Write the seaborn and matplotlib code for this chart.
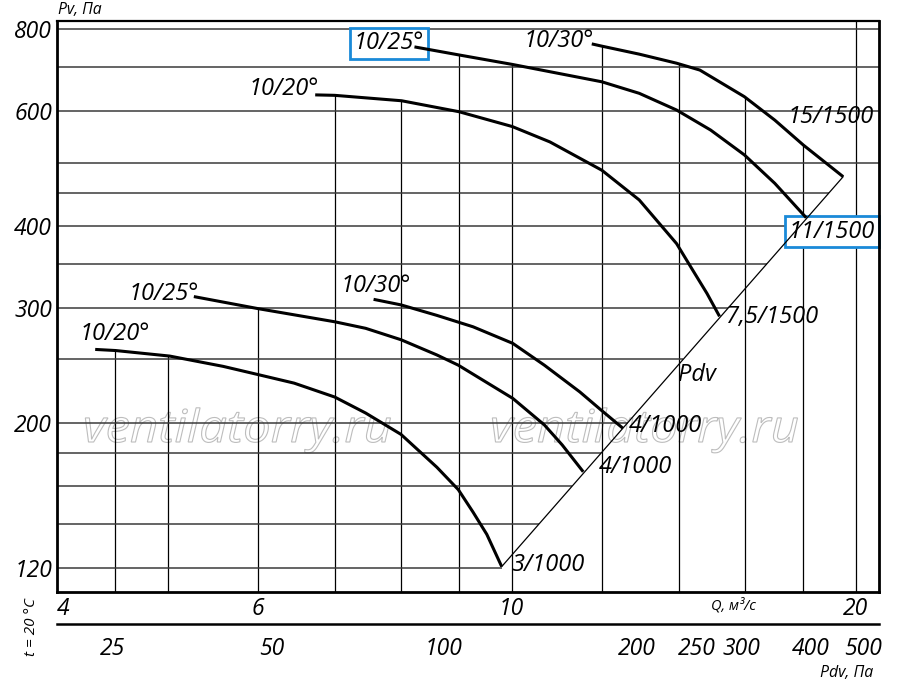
import numpy as np
import pandas as pd
import matplotlib
matplotlib.use("Agg")
import matplotlib.pyplot as plt
import seaborn as sns
from matplotlib.textpath import TextPath
from matplotlib.patches import PathPatch
from matplotlib.font_manager import FontProperties
from matplotlib.transforms import Affine2D
from matplotlib.ticker import NullLocator

# ========== DATA ==========
# n = 1000 rpm, blade angles 20/25/30 deg
q_1000_20 = [4.32, 4.50, 5.02, 5.59, 6.00, 6.45, 7.00, 7.45, 8.00, 8.60, 8.98, 9.25, 9.51, 9.80]
p_1000_20 = [259, 258, 253, 244, 237, 230, 219, 207, 192, 171, 158, 146, 135, 120.5]
q_1000_25 = [5.27, 6.00, 7.00, 7.45, 8.00, 8.60, 8.98, 10.02, 10.68, 11.07, 11.55]
p_1000_25 = [312, 299, 285.5, 279, 268, 254, 245, 218, 198.5, 185, 168.3]
q_1000_30 = [7.57, 8.00, 8.60, 9.25, 10.02, 10.68, 11.47, 11.98, 12.51]
p_1000_30 = [309, 303, 292, 280.5, 264.6, 245, 223, 209, 196.2]
# n = 1500 rpm
q_1500_20 = [6.73, 7.00, 8.01, 8.99, 10.01, 10.80, 11.99, 12.93, 13.94, 14.40, 14.82, 15.20]
p_1500_20 = [635, 634, 622, 598.5, 568, 538, 487, 438.5, 376, 342.5, 315.5, 291]
q_1500_25 = [8.22, 8.99, 10.01, 11.99, 12.93, 13.94, 14.93, 15.98, 16.99, 18.10]
p_1500_25 = [752, 731, 707, 665, 638.5, 602, 561, 514, 465, 412]
q_1500_30 = [11.75, 11.99, 12.93, 13.94, 14.61, 15.98, 16.99, 18.00, 19.50]
p_1500_30 = [760, 754, 733, 710, 693, 631, 581, 532, 476]

# dynamic pressure line Pdv
pdv_q = [9.80, 19.50]
pdv_p = [120.5, 476]

# axes ticks
q_ticks = [4, 6, 10, 20]
p_ticks = [120, 200, 300, 400, 600, 800]
grid_q = [4.5, 5, 6, 7, 8, 9, 10, 12, 14, 16, 18, 20]
grid_p = [120, 140, 160, 180, 200, 250, 300, 350, 400, 450, 500, 600, 700, 800]
pdv_tick_labels = ["25", "50", "100", "200", "250", "300", "400", "500"]
pdv_tick_q = [4.47, 6.16, 8.72, 12.88, 14.52, 15.90, 18.28, 20.28]

XLIM = (4.0, 20.96)
YLIM = (110.3, 823.8)

curves = {
    "10/20 1000": (q_1000_20, p_1000_20),
    "10/25 1000": (q_1000_25, p_1000_25),
    "10/30 1000": (q_1000_30, p_1000_30),
    "10/20 1500": (q_1500_20, p_1500_20),
    "10/25 1500": (q_1500_25, p_1500_25),
    "10/30 1500": (q_1500_30, p_1500_30),
}
df = pd.concat(
    [pd.DataFrame({"Q": q, "P": p, "curve": name}) for name, (q, p) in curves.items()],
    ignore_index=True,
)

# ========== STYLE ==========
sns.set_theme(style="white")
plt.rcParams["font.family"] = ["Open Sans", "DejaVu Sans"]
plt.rcParams["font.style"] = "italic"
plt.rcParams["text.color"] = "black"
plt.rcParams["xtick.color"] = "black"
plt.rcParams["ytick.color"] = "black"

BLUE = "#1a8ad8"
FS_TICK = 16.5
FS_LBL = 17

fig = plt.figure(figsize=(9, 6.94), dpi=100)
ax = fig.add_axes([0.06333, 0.1474, 0.91333, 0.82233])
ax.set_xscale("log")
ax.set_yscale("log")
ax.set_xlim(*XLIM)
ax.set_ylim(*YLIM)

# ========== WATERMARK ==========
wm_prop = FontProperties(family="Open Sans", style="italic")
for x0 in (83, 490):
    tp = TextPath((0, 0), "ventilatorry.ru", size=45, prop=wm_prop)
    ax.add_patch(PathPatch(tp, transform=Affine2D().scale(1.09, 1).translate(x0, 252),
                           facecolor="none", edgecolor="#bdbdbd", lw=0.8, zorder=0.5))

# ========== GRID (clipped to curves and Pdv line) ==========
def envelope(q):
    vals = []
    for qs, ps in curves.values():
        if qs[0] <= q <= qs[-1]:
            vals.append(np.interp(np.log(q), np.log(qs), np.log(ps)))
    return np.exp(max(vals)) if vals else YLIM[1]

def pdv_limit(p):
    if p > pdv_p[-1]:
        return XLIM[1]
    return np.exp(np.interp(np.log(p), np.log(pdv_p), np.log(pdv_q)))

for q in grid_q:
    ax.vlines(q, YLIM[0], envelope(q), color="black", lw=0.9, zorder=1)
for p in grid_p:
    ax.hlines(p, XLIM[0], pdv_limit(p), color="#3a3a3a", lw=1.1, zorder=1)

# ========== CURVES ==========
sns.lineplot(x=pdv_q, y=pdv_p, ax=ax, color="black", lw=0.9, zorder=2.8)
sns.lineplot(data=df, x="Q", y="P", units="curve", estimator=None, sort=False,
             ax=ax, color="black", lw=2.2, zorder=3,
             solid_joinstyle="round", solid_capstyle="butt")

# ========== LABELS ==========
def label(q, p, s, **kw):
    ax.text(q, p, s, fontsize=FS_LBL, fontstyle="italic", ha="center", va="center", **kw)

box = dict(boxstyle="square,pad=0.15", fc="white", ec=BLUE, lw=2)
label(4.49, 273, "10/20°")
label(4.96, 315, "10/25°")
label(7.61, 324, "10/30°")
label(6.32, 648, "10/20°")
label(7.81, 762, "10/25°", zorder=2.5, bbox=box)
label(11.0, 768, "10/30°")
label(19.0, 587, "15/1500")
label(19.06, 392, "11/1500", zorder=2.5, bbox=box)
label(16.9, 290, "7,5/1500")
label(14.52, 237, "Pdv")
label(13.64, 198, "4/1000")
label(12.82, 171, "4/1000")
label(10.75, 121, "3/1000")

# ========== AXES ==========
ax.xaxis.set_minor_locator(NullLocator())
ax.yaxis.set_minor_locator(NullLocator())
ax.set_xticks(q_ticks, [str(v) for v in q_ticks])
ax.set_yticks(p_ticks, [str(v) for v in p_ticks])
ax.tick_params(axis="x", length=0, pad=4, labelsize=FS_TICK)
ax.tick_params(axis="y", length=0, pad=3.5, labelsize=FS_TICK)
for t in ax.get_xticklabels() + ax.get_yticklabels():
    t.set_fontstyle("italic")
ax.get_xticklabels()[0].set_ha("left")
for side in ["left", "right", "bottom"]:
    ax.spines[side].set_linewidth(2.0)
    ax.spines[side].set_color("black")
ax.spines["top"].set_linewidth(1.6)
ax.spines["top"].set_color("black")
ax.set_xlabel("")
ax.set_ylabel("")

# secondary Pdv scale
ax2 = fig.add_axes([0.06333, 0.10043, 0.91333, 0.0001])
ax2.set_xscale("log")
ax2.set_xlim(*XLIM)
ax2.xaxis.set_minor_locator(NullLocator())
ax2.set_xticks(pdv_tick_q, pdv_tick_labels)
ax2.set_yticks([])
ax2.patch.set_visible(False)
for side in ["left", "right", "top"]:
    ax2.spines[side].set_visible(False)
ax2.spines["bottom"].set_linewidth(1.8)
ax2.spines["bottom"].set_color("black")
ax2.tick_params(axis="x", direction="inout", length=9, width=1.1, pad=4.5, labelsize=FS_TICK)
for t in ax2.get_xticklabels():
    t.set_fontstyle("italic")

fig.text(58 / 900, 1 - 10 / 694, "Pv, Па", fontsize=11.3, fontstyle="italic", ha="left", va="center")
fig.text(733 / 900, 1 - 606 / 694, "Q, м³/с", fontsize=10.5, fontstyle="italic", ha="center", va="center")
fig.text(873 / 900, 1 - 673 / 694, "Pdv, Па", fontsize=11.4, fontstyle="italic", ha="right", va="center")
fig.text(31.5 / 900, 1 - 626.5 / 694, "t = 20 °C", fontsize=11, fontstyle="italic", rotation=90,
         ha="center", va="center")

fig.savefig("out.png", dpi=100)
